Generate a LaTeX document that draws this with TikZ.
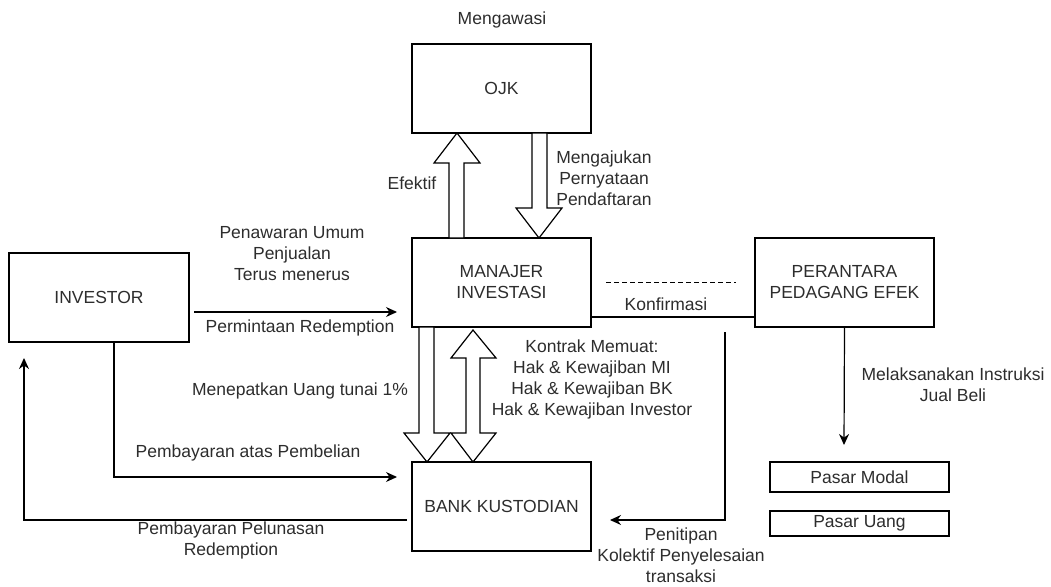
\documentclass[tikz,border=0pt]{standalone}
\usepackage{fontspec}
\setmainfont{Liberation Sans}
\usetikzlibrary{arrows.meta}
\newcommand\lblfont{\fontsize{17.5}{21}\selectfont}
\definecolor{txt}{RGB}{45,45,45}
\begin{document}
\begin{tikzpicture}[x=1pt,y=-1pt,
  box/.style={draw, line width=1.2pt, minimum width=179pt, minimum height=89pt, inner sep=0pt, align=center, font=\lblfont, text=txt},
  smallbox/.style={draw, line width=1.2pt, minimum width=179pt, inner sep=0pt, align=center, font=\lblfont, text=txt},
  lbl/.style={align=center, font=\lblfont, inner sep=0pt, text=txt},
  conn/.style={line width=1.2pt},
  arr/.style={conn, -{Stealth[length=11pt,width=10pt]}},
  blk/.style={draw, line width=1.2pt, fill=white, line join=miter}
]
\useasboundingbox (0,0) rectangle (1051,586);
\fill[white] (0,0) rectangle (1051,586);

% boxes
\node[box] (ojk) at (501.5,88.5) {OJK};
\node[box] (mi)  at (501.5,282.5) {MANAJER\\INVESTASI};
\node[box] (bk)  at (501.5,506.5) {BANK KUSTODIAN};
\node[box, minimum width=180pt] (inv) at (99,297.5) {INVESTOR};
\node[box] (ppe) at (844.5,282.5) {PERANTARA\\PEDAGANG EFEK};
\node[smallbox, minimum height=30pt] (pmodal) at (859.5,477) {Pasar Modal};
\node[smallbox, minimum height=25pt] (puang) at (859.5,523.5) {Pasar Uang};

% block arrows
\draw[blk] (449,238) -- (449,163) -- (434,163) -- (457,133) -- (480,163) -- (464,163) -- (464,238) -- cycle;
\draw[blk] (532,133) -- (532,208) -- (516,208) -- (539,238) -- (562,208) -- (547,208) -- (547,133) -- cycle;
\draw[blk] (419,327) -- (419,433) -- (404,433) -- (427,462) -- (450,433) -- (434,433) -- (434,327) -- cycle;
\draw[blk] (466,358) -- (451,358) -- (473,330) -- (496,358) -- (480,358) -- (480,433) -- (496,433) -- (473,462) -- (451,433) -- (466,433) -- cycle;

% free ends
\coordinate (a1) at (194,312);
\coordinate (a2) at (397,312);
\coordinate (bkin) at (397,477);
\coordinate (bkout) at (407,520);
\coordinate (invin) at (24,358);
\coordinate (r1) at (725,332);
\coordinate (r2) at (610,520);
\coordinate (pm) at (844,445);
\coordinate (d1) at (606,282);
\coordinate (d2) at (736,282);

% connectors
\draw[arr] (a1) -- (a2);
\draw[arr] ([xshift=15pt]inv.south) |- (bkin);
\draw[arr] (bkout) -| (invin);
\draw[conn] (mi.east |- 0,317) -- (ppe.west |- 0,317);
\draw[arr] (r1) |- (r2);
\draw[arr] (ppe.south) -- (pm);
\draw[line width=1pt, dash pattern=on 5pt off 3pt] (d1) -- (d2);

% labels
\node[lbl] (l1) at (502,20) {Mengawasi};
\node[lbl] (l2) at (412,183) {Efektif};
\node[lbl] (l3) at (604,178) {Mengajukan\\Pernyataan\\Pendaftaran};
\node[lbl] (l4) at (292,254) {Penawaran Umum\\Penjualan\\Terus menerus};
\node[lbl] (l5) at (300,328) {Permintaan Redemption};
\node[lbl] (l6) at (300,391) {Menepatkan Uang tunai 1\%};
\node[lbl] (l7) at (248,453) {Pembayaran atas Pembelian};
\node[lbl] (l8) at (231,540.5) {Pembayaran Pelunasan\\Redemption};
\node[lbl] (l9) at (592,379) {Kontrak Memuat:\\Hak \& Kewajiban MI\\Hak \& Kewajiban BK\\Hak \& Kewajiban Investor};
\node[lbl] (l10) at (666,304) {Konfirmasi};
\node[lbl] (l11) at (953,385) {Melaksanakan Instruksi\\Jual Beli};
\node[lbl] (l12) at (681,555) {Penitipan\\Kolektif Penyelesaian\\transaksi};
\end{tikzpicture}
\end{document}
